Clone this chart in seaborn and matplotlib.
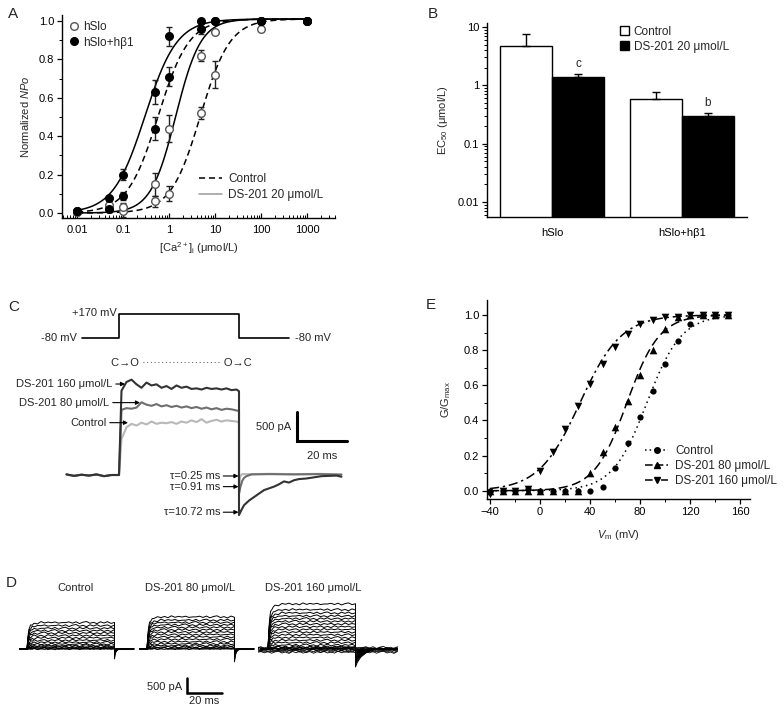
import numpy as np
import pandas as pd
import seaborn as sns
import matplotlib.pyplot as plt
from matplotlib.lines import Line2D
from matplotlib.patches import Patch
from matplotlib.ticker import MultipleLocator, LogLocator, NullFormatter

sns.set_theme(style='ticks')
plt.rcParams['font.family'] = ['Liberation Sans', 'DejaVu Sans']
plt.rcParams['mathtext.fontset'] = 'custom'
plt.rcParams['mathtext.rm'] = 'Liberation Sans'
plt.rcParams['mathtext.it'] = 'Liberation Sans:italic'
plt.rcParams['font.size'] = 8
plt.rcParams['axes.edgecolor'] = 'black'
plt.rcParams['xtick.color'] = 'black'
plt.rcParams['ytick.color'] = 'black'

# ---------------- data: panel A (Ca2+ dose response) ----------------
ca_conc = [0.01, 0.05, 0.1, 0.5, 1, 5, 10, 100, 1000]
hslo_ctrl = [0.005, 0.02, 0.01, 0.06, 0.10, 0.52, 0.72, 0.96, 1.0]
hslo_ctrl_err = [0, 0.01, 0.03, 0.03, 0.04, 0.03, 0.07, 0.01, 0]
hslo_ds = [0.005, 0.04, 0.03, 0.15, 0.44, 0.82, 0.94, 1.0, 1.0]
hslo_ds_err = [0, 0.02, 0.02, 0.06, 0.07, 0.03, 0.01, 0, 0]
hb1_ctrl = [0.01, 0.02, 0.09, 0.44, 0.71, 0.96, 1.0, 1.0, 1.0]
hb1_ctrl_err = [0, 0.01, 0.02, 0.06, 0.05, 0.03, 0, 0, 0]
hb1_ds = [0.01, 0.08, 0.20, 0.63, 0.92, 1.0, 1.0, 1.0, 1.0]
hb1_ds_err = [0, 0.01, 0.03, 0.06, 0.05, 0, 0, 0, 0]
# Hill fit parameters: hSlo ctrl, hSlo DS, hb1 ctrl, hb1 DS
fit_names = ['hSlo Control', 'hSlo DS', 'hb1 Control', 'hb1 DS']
fit_cond = ['Control', 'DS', 'Control', 'DS']
fit_ec50 = [4.8, 1.4, 0.58, 0.30]
fit_n = [1.35, 1.6, 1.3, 1.25]

# ---------------- data: panel B (EC50) ----------------
b_groups = ['hSlo', 'hSlo', 'hSlo+hβ1', 'hSlo+hβ1']
b_conds = ['Control', 'DS-201 20 μmol/L', 'Control', 'DS-201 20 μmol/L']
b_ec50 = [4.8, 1.40, 0.58, 0.30]
b_err = [2.9, 0.15, 0.18, 0.035]
b_marks = ['', 'c', '', 'b']

# ---------------- data: panel C (single traces, pA) ----------------
prot_t = [-15, 0, 0, 48, 48, 68]
prot_mv = [-80, -80, 170, 170, -80, -80]
base_t = [-21, -18, -15, -12, -9, -6, -3, 0]
plat_t = [1, 3, 5, 7, 9, 11, 13, 15, 17, 19, 21, 23, 25, 27, 29, 31, 33, 35, 37, 39, 41, 43, 45, 47, 48]
c_base = [10, -15, 5, -10, 10, -20, 0, 0]
c160_plat = [1450, 1600, 1640, 1560, 1500, 1590, 1540, 1560, 1500, 1530, 1480, 1540, 1500,
             1520, 1480, 1490, 1470, 1500, 1480, 1490, 1470, 1490, 1460, 1470, 1440]
c80_plat = [1120, 1150, 1140, 1160, 1250, 1210, 1190, 1220, 1180, 1200, 1170, 1190, 1160,
            1180, 1150, 1170, 1140, 1160, 1130, 1150, 1120, 1140, 1130, 1110, 1100]
cctl_plat = [620, 820, 880, 850, 900, 870, 920, 880, 900, 890, 910, 880, 920,
             900, 940, 910, 960, 900, 930, 950, 920, 940, 930, 920, 900]
c160_tail_t = [48, 49, 50, 52, 54, 56, 58, 60, 62, 64, 66, 68, 70, 72, 75, 78, 81, 84, 87, 89]
c160_tail = [-690, -600, -520, -440, -380, -320, -260, -230, -200, -160, -110, -130, -90,
             -70, -60, -40, -20, -15, -10, -30]
c80_tail_t = [48, 48.6, 49.3, 50, 51, 53, 60, 70, 80, 89]
c80_tail = [-320, -200, -100, -50, -20, 10, 15, 10, 15, 5]
cctl_tail_t = [48, 48.4, 49, 50, 53, 60, 70, 80, 89]
cctl_tail = [-200, -40, 10, 15, 15, 20, 15, 20, 10]

# ---------------- data: panel D (trace families, pA) ----------------
d_titles = ['Control', 'DS-201 80 μmol/L', 'DS-201 160 μmol/L']
d_amps = [
    [0, 10, 25, 45, 75, 110, 160, 220, 290, 370, 450, 530, 610, 690, 780, 880],
    [0, 15, 35, 65, 110, 170, 240, 320, 400, 480, 560, 640, 720, 800, 880, 960, 1070],
    [0, 30, 70, 130, 210, 290, 380, 470, 560, 650, 740, 830, 920, 1010, 1100, 1200, 1310, 1500],
]
d_tail_depth = [330, 430, 600]
d_end_t = [61, 61, 74]
d_act_t = [0, 0.5, 1, 1.5, 2, 3, 4, 6, 8, 10, 12, 14, 16, 18, 20, 22, 24, 26, 28, 30,
           32, 34, 36, 38, 40, 42, 44, 46, 48, 50]
d_act = [0, 0.45, 0.70, 0.82, 0.88, 0.93, 0.96, 0.98, 1.0, 1.0, 1.0, 1.0, 1.0, 1.0, 1.0,
         1.0, 1.0, 1.0, 1.0, 1.0, 1.0, 1.0, 1.0, 1.0, 1.0, 1.0, 1.0, 1.0, 1.0, 1.0]
d_noise = [0, 0.5, -0.4, 0.6, -0.7, 0.3, 0.8, -0.5, 0.2, -0.8, 0.6, -0.3, 0.7, -0.6, 0.1,
           0.5, -0.7, 0.4, -0.2, 0.6, -0.5, 0.3, -0.6, 0.8, -0.3, 0.4, -0.1, 0.5, -0.4, 0]
d_tail_t = [[50, 50.3, 51, 52, 53.5, 56], [50, 50.3, 51, 52, 53.5, 56],
            [50, 51, 53, 56, 59, 63]]
d_tail_shape = [[-1.0, -0.55, -0.2, -0.06, 0, 0], [-1.0, -0.6, -0.25, -0.08, 0, 0],
                [-1.0, -0.75, -0.45, -0.22, -0.08, 0]]
d_band = [-110, -80, -50, -25, 0, 25, 50]

# ---------------- data: panel E (G/Gmax) ----------------
vm = [-40, -30, -20, -10, 0, 10, 20, 30, 40, 50, 60, 70, 80, 90, 100, 110, 120, 130, 140, 150]
g_ctrl = [0, 0, 0, 0.01, 0, 0, 0, 0, 0, 0.02, 0.13, 0.27, 0.42, 0.57, 0.72, 0.85, 0.95, 1.0, 1.0, 1.0]
g_80 = [0, 0, 0, 0, 0, 0, 0, 0, 0.10, 0.22, 0.36, 0.51, 0.66, 0.80, 0.92, 0.99, 1.0, 1.0, 1.0, 1.0]
g_160 = [-0.02, 0, 0, 0.01, 0.11, 0.22, 0.35, 0.48, 0.61, 0.72, 0.82, 0.89, 0.95, 0.97, 0.99,
         0.99, 1.0, 1.0, 1.0, 1.0]
e_labels = ['Control', 'DS-201 80 μmol/L', 'DS-201 160 μmol/L']
e_vhalf = [85.5, 69.5, 32]
e_slope = [13.8, 13, 16.5]

W, H = 784, 709
fig = plt.figure(figsize=(7.84, 7.09), dpi=100)


def add_ax(l, t, r, b):
    return fig.add_axes([l / W, 1 - b / H, (r - l) / W, (b - t) / H])


def style_ax(ax):
    sns.despine(ax=ax)
    for s in ['left', 'bottom']:
        ax.spines[s].set_linewidth(1.0)
    ax.tick_params(which='major', length=3.5, width=0.9, labelsize=8, pad=2)
    ax.tick_params(which='minor', length=2, width=0.7)


# ================= A =================
axA = add_ax(62, 15, 335, 218)
axA.set_xscale('log')
cx = np.logspace(-2, 3, 300)
fit_rows = []
for name, cond, ec, n in zip(fit_names, fit_cond, fit_ec50, fit_n):
    fit_rows.append(pd.DataFrame({'conc': cx, 'npo': 1.01 / (1 + (ec / cx) ** n),
                                  'series': name, 'cond': cond}))
fit_df = pd.concat(fit_rows)
sns.lineplot(data=fit_df, x='conc', y='npo', units='series', style='cond', estimator=None,
             dashes={'Control': (4, 2.5), 'DS': ''}, color='black', linewidth=1.1,
             legend=False, ax=axA)
for yv, ye, filled in [(hslo_ctrl, hslo_ctrl_err, False), (hslo_ds, hslo_ds_err, False),
                       (hb1_ctrl, hb1_ctrl_err, True), (hb1_ds, hb1_ds_err, True)]:
    axA.errorbar(ca_conc, yv, yerr=ye, fmt='none', ecolor='#222222', elinewidth=1,
                 capsize=2.5, capthick=1, zorder=3)
    sns.scatterplot(x=ca_conc, y=yv, marker='o', s=30,
                    color='black' if filled else 'white',
                    edgecolor='black' if filled else '#555555', linewidth=1,
                    zorder=4, ax=axA)
axA.set_xlim(0.0047, 4060)
axA.set_ylim(-0.026, 1.031)
axA.set_xticks([0.01, 0.1, 1, 10, 100, 1000], ['0.01', '0.1', '1', '10', '100', '1000'])
axA.xaxis.set_minor_locator(LogLocator(base=10, subs=np.arange(2, 10)))
axA.xaxis.set_minor_formatter(NullFormatter())
axA.set_yticks([0, 0.2, 0.4, 0.6, 0.8, 1.0], ['0.0', '0.2', '0.4', '0.6', '0.8', '1.0'])
axA.yaxis.set_minor_locator(MultipleLocator(0.1))
style_ax(axA)
axA.tick_params(axis='x', which='both', direction='in')
axA.tick_params(axis='x', pad=5)
axA.set_xlabel('[Ca$^{2+}$]$_\\mathrm{i}$ (μmol/L)', fontsize=8, labelpad=4)
axA.set_ylabel('Normalized $\\mathit{NPo}$', fontsize=8, labelpad=6)
legA1 = axA.legend(handles=[
    Line2D([], [], marker='o', ls='none', mfc='white', mec='#555555', ms=5.5, label='hSlo'),
    Line2D([], [], marker='o', ls='none', mfc='black', mec='black', ms=5.5, label='hSlo+hβ1')],
    loc='upper left', bbox_to_anchor=(0.025, 0.97), frameon=False, fontsize=8.5,
    handlelength=0.8, handletextpad=0.4, labelspacing=0.3, borderaxespad=0, borderpad=0)
axA.add_artist(legA1)
axA.legend(handles=[
    Line2D([], [], color='black', ls=(0, (4, 2.5)), lw=1.1, label='Control'),
    Line2D([], [], color='#999999', ls='-', lw=1.1, label='DS-201 20 μmol/L')],
    loc='upper left', bbox_to_anchor=(0.5, 0.22), frameon=False, fontsize=8.5,
    handlelength=2.0, handletextpad=0.5, labelspacing=0.3, borderaxespad=0, borderpad=0)

# ================= B =================
axB = add_ax(487, 23, 747, 217)
b_df = pd.DataFrame({'group': b_groups, 'cond': b_conds, 'ec50': b_ec50})
sns.barplot(data=b_df, x='group', y='ec50', hue='cond', palette=['white', 'black'],
            edgecolor='black', linewidth=1, errorbar=None, width=0.8, legend=False,
            ax=axB)
axB.set_yscale('log')
bars = sorted([p for p in axB.patches if p.get_height() > 0], key=lambda p: p.get_x())
for p, err, mark in zip(bars, b_err, b_marks):
    xc = p.get_x() + p.get_width() / 2
    top = p.get_height()
    axB.errorbar([xc], [top], yerr=[[0], [err]], fmt='none', ecolor='black',
                 elinewidth=1, capsize=3, capthick=1)
    if mark:
        axB.text(xc, (top + err) * 1.18, mark, ha='center', va='bottom', fontsize=8.5)
axB.set_ylim(0.0055, 11.7)
axB.set_xlim(-0.5, 1.5)
axB.set_yticks([0.01, 0.1, 1, 10], ['0.01', '0.1', '1', '10'])
axB.yaxis.set_minor_locator(LogLocator(base=10, subs=np.arange(2, 10)))
axB.yaxis.set_minor_formatter(NullFormatter())
style_ax(axB)
axB.tick_params(axis='x', length=0, pad=8)
axB.set_xlabel('')
axB.set_ylabel('EC$_{50}$ (μmol/L)', fontsize=8, labelpad=6)
axB.legend(handles=[Patch(facecolor='white', edgecolor='black', label='Control'),
                    Patch(facecolor='black', edgecolor='black', label='DS-201 20 μmol/L')],
           loc='upper left', bbox_to_anchor=(0.51, 0.985), frameon=False, fontsize=8.5,
           handlelength=0.8, handleheight=0.8, handletextpad=0.4, labelspacing=0.25,
           borderaxespad=0, borderpad=0)

# ================= C =================
axP = add_ax(56.5, 300, 356.5, 350)
axP.set_xlim(-25, 95)
axP.set_ylim(-205, 316)
axP.axis('off')
sns.lineplot(x=prot_t, y=prot_mv, sort=False, estimator=None, color='black', lw=1.2, ax=axP)
axP.text(-1, 180, '+170 mV', ha='right', va='center', fontsize=8)
axP.text(-17, -80, '-80 mV', ha='right', va='center', fontsize=8)
axP.text(70.5, -80, '-80 mV', ha='left', va='center', fontsize=8)

axC = add_ax(56.5, 355, 356.5, 525)
axC.set_xlim(-25, 95)
axC.set_ylim(-860, 2064)
axC.axis('off')
c_traces = [
    (cctl_plat, cctl_tail_t, cctl_tail, '#b8b8b8'),
    (c80_plat, c80_tail_t, c80_tail, '#6e6e6e'),
    (c160_plat, c160_tail_t, c160_tail, '#333333'),
]
for plat, tt, tv, col in c_traces:
    t_all = base_t + plat_t + tt
    v_all = c_base + plat + tv
    sns.lineplot(x=t_all, y=v_all, sort=False, estimator=None, color=col, lw=1.5, ax=axC)
axC.text(25, 1930, 'C→O ····················· O→C', ha='center', va='center', fontsize=8)
arrow = dict(arrowstyle='-|>', color='black', lw=0.8, mutation_scale=6, shrinkA=0, shrinkB=0)
axC.annotate('DS-201 160 μmol/L', xy=(2.4, 1565), xytext=(-2.6, 1565), ha='right',
             va='center', fontsize=8, arrowprops=arrow)
axC.annotate('DS-201 80 μmol/L', xy=(8.4, 1245), xytext=(-3.8, 1245), ha='right',
             va='center', fontsize=8, arrowprops=arrow)
axC.annotate('Control', xy=(3.6, 900), xytext=(-5, 900), ha='right', va='center',
             fontsize=8, arrowprops=arrow)
axC.annotate('τ=0.25 ms', xy=(47.8, -17), xytext=(40.4, -17), ha='right', va='center',
             fontsize=8, arrowprops=arrow)
axC.annotate('τ=0.91 ms', xy=(47.8, -200), xytext=(40.4, -200), ha='right', va='center',
             fontsize=8, arrowprops=arrow)
axC.annotate('τ=10.72 ms', xy=(47.8, -640), xytext=(40.4, -640), ha='right', va='center',
             fontsize=8, arrowprops=arrow)
axC.plot([71.2, 71.2, 91.2], [1085, 585, 585], color='black', lw=2.2,
         solid_joinstyle='miter')
axC.text(69, 830, '500 pA', ha='right', va='center', fontsize=8)
axC.text(81.2, 420, '20 ms', ha='center', va='top', fontsize=8)

# ================= D =================
d_t0_px = [27, 147, 268]
for k in range(3):
    axD = add_ax(d_t0_px[k] - 10.5, 600, d_t0_px[k] - 10.5 + 82 * 1.75, 700)
    axD.set_xlim(-6, 76)
    axD.set_ylim(-1700, 1633)
    axD.axis('off')
    amps = d_amps[k]
    amax = max(amps)
    for i, a in enumerate(amps):
        nz = np.roll(d_noise, 3 * i) * (45 if a > 0 else 15)
        nz[:2] = 0
        act = np.array(d_act) * a + nz
        tail = np.array(d_tail_shape[k]) * d_tail_depth[k] * (a / amax)
        t_all = [-4, 0] + d_act_t + d_tail_t[k] + [d_end_t[k]]
        v_all = [0, 0] + list(act) + list(tail) + [0]
        sns.lineplot(x=t_all, y=v_all, sort=False, estimator=None, color='black',
                     lw=0.7, ax=axD)
    if k == 2:
        bt = list(range(-6, 75, 2))
        for j, off in enumerate(d_band):
            bv = off + np.resize(np.roll(d_noise, 5 * j), len(bt)) * 45
            sns.lineplot(x=bt, y=bv, sort=False, estimator=None, color='black',
                         lw=0.6, ax=axD)
    if k == 1:
        axD.plot([22.9, 22.9, 42.9], [-965, -1465, -1465], color='black', lw=1.8,
                 solid_joinstyle='miter', clip_on=False)
        axD.text(20.3, -1265, '500 pA', ha='right', va='center', fontsize=8)
        axD.text(32.6, -1580, '20 ms', ha='center', va='top', fontsize=8)
    fig.text([75, 190, 313][k] / W, 1 - 588 / H, d_titles[k], ha='center', va='center',
             fontsize=8)

# ================= E =================
axE = add_ax(487, 300, 750, 499)
ex = np.linspace(-40, 150, 300)
e_rows = []
for lab, vh, sl in zip(e_labels, e_vhalf, e_slope):
    e_rows.append(pd.DataFrame({'vm': ex, 'g': 1 / (1 + np.exp((vh - ex) / sl)), 'cond': lab}))
e_df = pd.concat(e_rows)
e_dashes = {'Control': (1, 2.5), 'DS-201 80 μmol/L': (6, 3),
            'DS-201 160 μmol/L': (6, 2.5, 1.5, 2.5)}
sns.lineplot(data=e_df, x='vm', y='g', style='cond', dashes=e_dashes, color='black',
             lw=1.1, estimator=None, legend=False, ax=axE)
for gv, mk, sz in [(g_ctrl, 'o', 20), (g_80, '^', 30), (g_160, 'v', 30)]:
    sns.scatterplot(x=vm, y=gv, marker=mk, s=sz, color='black', linewidth=0, zorder=4,
                    ax=axE)
axE.set_xlim(-42.4, 168)
axE.set_ylim(-0.047, 1.085)
axE.set_xticks([-40, 0, 40, 80, 120, 160])
axE.xaxis.set_minor_locator(MultipleLocator(20))
axE.set_yticks([0, 0.2, 0.4, 0.6, 0.8, 1.0], ['0.0', '0.2', '0.4', '0.6', '0.8', '1.0'])
axE.yaxis.set_minor_locator(MultipleLocator(0.1))
style_ax(axE)
axE.set_xlabel('$V_\\mathrm{m}$ (mV)', fontsize=8, labelpad=8)
axE.set_ylabel('G/G$_\\mathrm{max}$', fontsize=8, labelpad=8)
axE.legend(handles=[
    Line2D([], [], color='black', ls=(0, (1, 2)), marker='o', ms=4, lw=1.1, label=e_labels[0]),
    Line2D([], [], color='black', ls=(0, (5, 2)), marker='^', ms=5, lw=1.1, label=e_labels[1]),
    Line2D([], [], color='black', ls=(0, (5, 2, 1.5, 2)), marker='v', ms=5, lw=1.1,
           label=e_labels[2])],
    loc='upper left', bbox_to_anchor=(0.6, 0.27), frameon=False, fontsize=8.5,
    handlelength=2.0, handletextpad=0.6, labelspacing=0.25, borderaxespad=0, borderpad=0)

# panel letters
for lab, x, y in [('A', 8, 14), ('B', 428, 14), ('C', 8, 307), ('D', 6, 583), ('E', 426, 305)]:
    fig.text(x / W, 1 - y / H, lab, fontsize=11, ha='left', va='center')

fig.savefig('out.png', dpi=100)
